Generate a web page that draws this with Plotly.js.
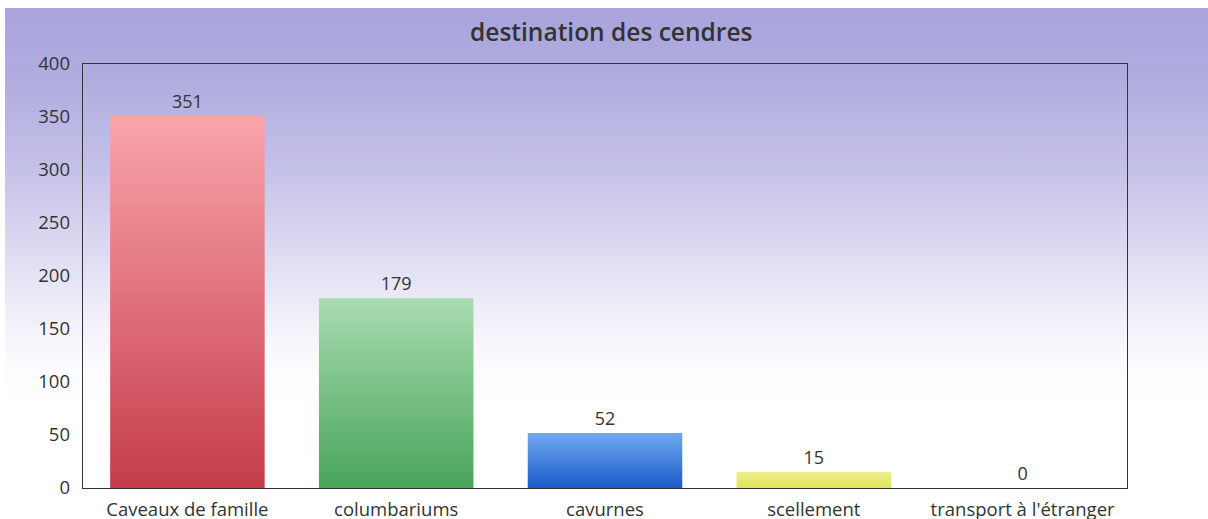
<!DOCTYPE html>
<html>
<head>
<meta charset="utf-8">
<script src="https://cdn.plot.ly/plotly-3.0.1.min.js"></script>
<style>
  html, body { margin: 0; padding: 0; background: #fff; }
  #wrap { position: relative; width: 1208px; height: 519px; overflow: hidden; background: #fff; }
  #bg { position: absolute; left: 5px; top: 8px; right: 0; bottom: 0;
        background: linear-gradient(to bottom, #a8a3db 0px, #b2aee0 80px, #c4c1e8 160px, #dcdaf1 240px, #f1f0f9 310px, #fcfcfe 360px, #ffffff 400px); }
  #chart { position: absolute; left: 0; top: 0; width: 1208px; height: 519px; }
</style>
</head>
<body>
<div id="wrap">
  <div id="bg"></div>
  <div id="chart"></div>
</div>
<script>
const categories = ["Caveaux de famille", "columbariums", "cavurnes", "scellement", "transport à l'étranger"];
const values = [351, 179, 52, 15, 0];
const yTicks = [0, 50, 100, 150, 200, 250, 300, 350, 400];
const chartTitle = "destination des cendres";

const topColors = ["#f9a5aa", "#a8dcb1", "#70a9ee", "#eef08c", "#cccccc"];
const bottomColors = ["#c53c4b", "#49a55a", "#1a5bc9", "#dfe35c", "#999999"];

const trace = {
  type: "bar",
  x: categories,
  y: values,
  text: values.map(String),
  textposition: "outside",
  cliponaxis: false,
  textfont: { family: "Open Sans", size: 18, color: "#333" },
  marker: { color: topColors, line: { width: 0 } },
  hoverinfo: "x+y"
};

const layout = {
  width: 1208,
  height: 519,
  margin: { l: 83, r: 81, t: 64, b: 31, pad: 0 },
  paper_bgcolor: "rgba(0,0,0,0)",
  plot_bgcolor: "rgba(0,0,0,0)",
  bargap: 0.26,
  showlegend: false,
  font: { family: "Open Sans", color: "#333" },
  title: {
    text: chartTitle,
    font: { family: "Open Sans", size: 24.5, color: "#333", weight: 600 },
    x: 0.506, xanchor: "center",
    y: 0.937, yanchor: "middle"
  },
  xaxis: {
    type: "category",
    showline: true, mirror: true, linecolor: "#333", linewidth: 1.3,
    showgrid: false, zeroline: false, ticks: "",
    ticklabelstandoff: 4,
    tickfont: { family: "Open Sans", size: 18.5, color: "#333" }
  },
  yaxis: {
    range: [0, 400],
    tickvals: yTicks,
    ticktext: yTicks.map(String),
    showline: true, mirror: true, linecolor: "#333", linewidth: 1.3,
    showgrid: false, zeroline: false, ticks: "",
    ticklabelstandoff: 8,
    tickfont: { family: "Open Sans", size: 18.5, color: "#333" }
  }
};

Plotly.newPlot("chart", [trace], layout, { displayModeBar: false, staticPlot: true }).then(function (gd) {
  const svg = gd.querySelector("svg.main-svg");
  const NS = "http://www.w3.org/2000/svg";
  let defs = svg.querySelector("defs");
  if (!defs) { defs = document.createElementNS(NS, "defs"); svg.insertBefore(defs, svg.firstChild); }
  topColors.forEach(function (c, i) {
    const g = document.createElementNS(NS, "linearGradient");
    g.setAttribute("id", "bargrad" + i);
    g.setAttribute("x1", "0"); g.setAttribute("y1", "0");
    g.setAttribute("x2", "0"); g.setAttribute("y2", "1");
    const s1 = document.createElementNS(NS, "stop");
    s1.setAttribute("offset", "0"); s1.setAttribute("stop-color", c);
    const s2 = document.createElementNS(NS, "stop");
    s2.setAttribute("offset", "1"); s2.setAttribute("stop-color", bottomColors[i]);
    g.appendChild(s1); g.appendChild(s2);
    defs.appendChild(g);
  });
  const paths = gd.querySelectorAll(".barlayer .point path");
  paths.forEach(function (p, i) {
    p.style.fill = "url(#bargrad" + i + ")";
  });
});
</script>
</body>
</html>
